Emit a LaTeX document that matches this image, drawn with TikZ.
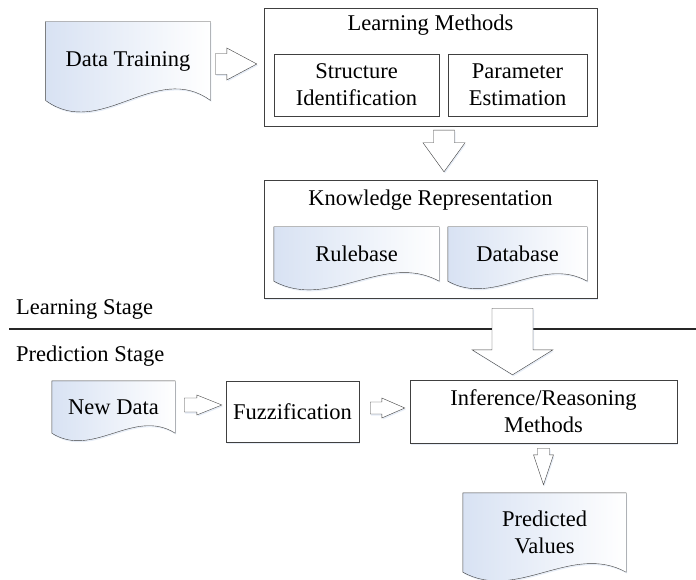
\documentclass[tikz,border=0pt]{standalone}
\usepackage{fontspec}
\setmainfont{Liberation Serif}
\usetikzlibrary{calc,backgrounds,shadows}

\definecolor{boxline}{RGB}{64,64,64}
\definecolor{docblue}{RGB}{216,226,243}
\definecolor{shadowblue}{RGB}{160,185,222}

\tikzset{every picture/.style={line width=0.9pt}}
\tikzset{
  every node/.style={font=\fontsize{22.5}{27}\selectfont},
  softshadow/.style={drop shadow={opacity=0.25, fill=shadowblue, shadow xshift=1pt, shadow yshift=-1.5pt}},
  box/.style={draw=boxline, fill=white, inner sep=0pt, align=center, softshadow},
  doc/.style={inner sep=0pt, align=center},
  docline/.style={draw=boxline, left color=docblue, right color=white, softshadow},
  title/.style={inner sep=0pt},
  stage/.style={inner sep=0pt, anchor=west},
  blockarr/.style={draw=boxline, fill=white, line join=miter, softshadow},
  sepline/.style={draw=black!85, line width=1.2pt}
}

% document shape: outline of node #1 with a wave of depth #2 below
\newcommand{\docwave}[2]{%
  \begin{pgfonlayer}{background}
  \draw[docline] (#1.north west) -- (#1.north east) -- (#1.south east)
    .. controls ($(#1.south east)!1/3!(#1.south west)+(0,-#2)$) and ($(#1.south east)!2/3!(#1.south west)+(0,#2)$) .. (#1.south west) -- cycle;
  \end{pgfonlayer}}

% hollow block arrow from #1 to #2: shaft half width #3, head half width #4, head length #5
\newcommand{\blockarrow}[5]{%
  \coordinate (ab) at ($(#2)!#5!(#1)$);
  \draw[blockarr] ($(#1)!#3!90:(#2)$) -- ($(ab)!#3!90:(#2)$) -- ($(ab)!#4!90:(#2)$)
    -- (#2) -- ($(ab)!#4!-90:(#2)$) -- ($(ab)!#3!-90:(#2)$) -- ($(#1)!#3!-90:(#2)$) -- cycle;}

\begin{document}
\begin{tikzpicture}[x=1pt,y=1pt,yscale=-1,xscale=1]
\useasboundingbox (0,0) rectangle (696,580);

% Learning stage
\node[doc, minimum width=164, minimum height=78] (dtrain) at (128,61) {Data Training};
\docwave{dtrain}{40}

\node[box, minimum width=333, minimum height=118] (learn) at (430.5,67) {};
\node[title] (learnlbl) at ($(learn.north)+(0,17)$) {Learning Methods};
\node[box, minimum width=165, minimum height=62] (struct) at (356.5,85) {Structure\\Identification};
\node[box, minimum width=139, minimum height=62] (param) at (517.5,85) {Parameter\\Estimation};

\begin{pgfonlayer}{background}
\node[box, minimum width=333, minimum height=118] (know) at (430.5,239) {};
\end{pgfonlayer}
\node[title] (knowlbl) at ($(know.north)+(0,20)$) {Knowledge Representation};
\node[doc, minimum width=165, minimum height=54] (rule) at (356.5,254) {Rulebase};
\docwave{rule}{30}
\node[doc, minimum width=139, minimum height=54] (dbase) at (517.5,254) {Database};
\docwave{dbase}{26}

% Stage separator
\node[stage] (lstage) at (16,309) {Learning Stage};
\draw[sepline] (9,329) -- (696,329);
\node[stage] (pstage) at (16,356) {Prediction Stage};

% Prediction stage
\node[doc, minimum width=123, minimum height=52] (ndata) at (113.5,407) {New Data};
\docwave{ndata}{26}
\node[box, minimum width=133, minimum height=61] (fuzz) at (292.5,411.5) {Fuzzification};
\node[box, minimum width=267, minimum height=63] (infer) at (543.5,411.5) {Inference/Reasoning\\Methods};
\node[doc, minimum width=163, minimum height=79] (pred) at (544.5,532.5) {Predicted\\Values};
\docwave{pred}{30}

% Block arrows
\coordinate (a1s) at ($(dtrain.east)+(5,3)$);
\coordinate (a1e) at ($(learn.west)+(-7,-3)$);
\blockarrow{a1s}{a1e}{10.5pt}{16pt}{30pt}
\coordinate (a2s) at ($(learn.south)+(13.5,4)$);
\coordinate (a2e) at ($(know.north)+(13.5,-8)$);
\blockarrow{a2s}{a2e}{10.5pt}{21pt}{29pt}
\coordinate (a3s) at ($(know.south)+(82,10)$);
\coordinate (a3e) at ($(infer.north)+(-31,-5)$);
\blockarrow{a3s}{a3e}{20.5pt}{40.5pt}{25pt}
\coordinate (a4s) at ($(infer.south)+(0,5)$);
\coordinate (a4e) at ($(pred.north)+(-1,-8)$);
\blockarrow{a4s}{a4e}{6pt}{10pt}{30pt}
\coordinate (a5s) at ($(ndata.east)+(9,-2)$);
\coordinate (a5e) at ($(fuzz.west)+(-4,-6.5)$);
\blockarrow{a5s}{a5e}{7pt}{10pt}{25pt}
\coordinate (a6s) at ($(fuzz.east)+(11,-3.5)$);
\coordinate (a6e) at ($(infer.west)+(-5,-3.5)$);
\blockarrow{a6s}{a6e}{6pt}{10pt}{23pt}

\end{tikzpicture}
\end{document}
